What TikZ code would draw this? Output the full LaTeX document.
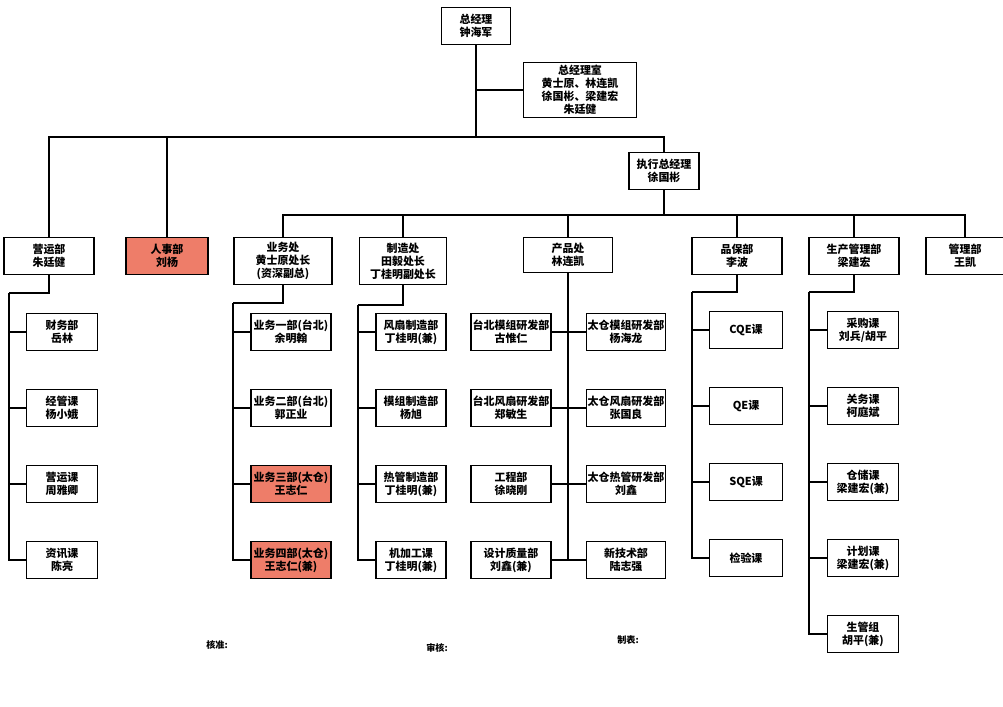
\documentclass[tikz,border=0pt]{standalone}
\usepackage{fontspec}
\setmainfont{Noto Sans CJK SC}
\definecolor{hrred}{RGB}{238,125,105}
\begin{document}
\begin{tikzpicture}[
        x=0.025cm, y=-0.025cm,
        node distance=1.9cm,
        box/.style={rectangle, draw, line width=0.9pt, minimum height=0.93cm, inner sep=1pt, align=center, font=\fontsize{7.8}{9.3}\selectfont\bfseries},
        hot/.style={box, fill=hrred},
        link/.style={line width=0.9pt},
        sign/.style={font=\fontsize{6.5}{8}\selectfont\bfseries}
    ]
        \useasboundingbox (0,0) rectangle (1003,706);

        % top level
        \node[box, minimum width=1.73cm] (gm) at (476,26) {总经理\\钟海军};
        \node[box, minimum width=2.83cm, minimum height=1.38cm] (gmoffice) at (580,90) {总经理室\\黄士原、林连凯\\徐国彬、梁建宏\\朱廷健};
        \node[box, minimum width=1.75cm] (exec) at (664,171) {执行总经理\\徐国彬};

        % departments
        \node[box, minimum width=2.25cm] (ops) at (49,256) {营运部\\朱廷健};
        \node[hot, minimum width=2.05cm] (hr) at (167,256) {人事部\\刘杨};
        \node[box, minimum width=2.45cm, minimum height=1.18cm] (sales) at (283,261) {业务处\\黄士原处长\\(资深副总)};
        \node[box, minimum width=2.18cm, minimum height=1.18cm] (mfg) at (403,261) {制造处\\田毅处长\\丁桂明副处长};
        \node[box, minimum width=2.23cm, minimum height=0.88cm] (prod) at (568,255) {产品处\\林连凯};
        \node[box, minimum width=2.25cm] (qa) at (737,256) {品保部\\李波};
        \node[box, minimum width=2.25cm] (pmc) at (854,256) {生产管理部\\梁建宏};
        \node[box, minimum width=1.95cm] (admin) at (965,256) {管理部\\王凯};

        % 营运部
        \node[box, minimum width=1.78cm] (o1) at (62,332) {财务部\\岳林};
        \node[box, minimum width=1.78cm, below of=o1] (o2) {经管课\\杨小娥};
        \node[box, minimum width=1.78cm, below of=o2] (o3) {营运课\\周雅卿};
        \node[box, minimum width=1.78cm, below of=o3] (o4) {资讯课\\陈亮};

        % 业务处
        \node[box, minimum width=2cm] (s1) at (291,332) {业务一部(台北)\\余明翰};
        \node[box, minimum width=2cm, below of=s1] (s2) {业务二部(台北)\\郭正业};
        \node[hot, minimum width=2cm, below of=s2] (s3) {业务三部(太仓)\\王志仁};
        \node[hot, minimum width=2cm, below of=s3] (s4) {业务四部(太仓)\\王志仁(兼)};

        % 制造处
        \node[box, minimum width=1.75cm] (m1) at (411,332) {风扇制造部\\丁桂明(兼)};
        \node[box, minimum width=1.75cm, below of=m1] (m2) {模组制造部\\杨旭};
        \node[box, minimum width=1.75cm, below of=m2] (m3) {热管制造部\\丁桂明(兼)};
        \node[box, minimum width=1.75cm, below of=m3] (m4) {机加工课\\丁桂明(兼)};

        % 产品处
        \node[box, minimum width=2cm] (pl1) at (511,332) {台北模组研发部\\古惟仁};
        \node[box, minimum width=2cm, below of=pl1] (pl2) {台北风扇研发部\\郑敏生};
        \node[box, minimum width=2cm, below of=pl2] (pl3) {工程部\\徐晓刚};
        \node[box, minimum width=2cm, below of=pl3] (pl4) {设计质量部\\刘鑫(兼)};
        \node[box, minimum width=1.98cm] (pr1) at (626,332) {太仓模组研发部\\杨海龙};
        \node[box, minimum width=1.98cm, below of=pr1] (pr2) {太仓风扇研发部\\张国良};
        \node[box, minimum width=1.98cm, below of=pr2] (pr3) {太仓热管研发部\\刘鑫};
        \node[box, minimum width=1.98cm, below of=pr3] (pr4) {新技术部\\陆志强};

        % 品保部
        \node[box, minimum width=1.83cm] (q1) at (746,330) {CQE课};
        \node[box, minimum width=1.83cm, below of=q1] (q2) {QE课};
        \node[box, minimum width=1.83cm, below of=q2] (q3) {SQE课};
        \node[box, minimum width=1.83cm, below of=q3] (q4) {检验课};

        % 生产管理部
        \node[box, minimum width=1.78cm] (c1) at (863,330) {采购课\\刘兵/胡平};
        \node[box, minimum width=1.78cm, below of=c1] (c2) {关务课\\柯庭斌};
        \node[box, minimum width=1.78cm, below of=c2] (c3) {仓储课\\梁建宏(兼)};
        \node[box, minimum width=1.78cm, below of=c3] (c4) {计划课\\梁建宏(兼)};
        \node[box, minimum width=1.78cm, below of=c4] (c5) {生管组\\胡平(兼)};

        % buses
        \coordinate (busA) at (476,137);
        \coordinate (busB) at (664,215);
        \coordinate (opsbus) at (9,293);
        \coordinate (salesbus) at (233,303);
        \coordinate (mfgbus) at (358,305);
        \coordinate (qabus) at (692,292);
        \coordinate (pmcbus) at (809,292);

        \draw[link] (gm.south) -- (busA);
        \draw[link] (gmoffice.west) -| (gm.south);
        \draw[link] (ops.north) |- (busA) -| (exec.north);
        \draw[link] (hr.north) -- (hr.north |- busA);
        \draw[link] (exec.south) -- (busB);
        \foreach \n in {sales, mfg, prod, qa, pmc, admin}
            \draw[link] (\n.north) |- (busB);

        \draw[link] (ops.south) |- (opsbus);
        \foreach \n in {o1, o2, o3, o4}
            \draw[link] (opsbus) |- (\n.west);
        \draw[link] (sales.south) |- (salesbus);
        \foreach \n in {s1, s2, s3, s4}
            \draw[link] (salesbus) |- (\n.west);
        \draw[link] (mfg.south) |- (mfgbus);
        \foreach \n in {m1, m2, m3, m4}
            \draw[link] (mfgbus) |- (\n.west);
        \draw[link] (prod.south) -- (prod.south |- pl4.east);
        \foreach \i in {1,...,4}
            \draw[link] (pl\i.east) -- (pr\i.west);
        \draw[link] (qa.south) |- (qabus);
        \foreach \n in {q1, q2, q3, q4}
            \draw[link] (qabus) |- (\n.west);
        \draw[link] (pmc.south) |- (pmcbus);
        \foreach \n in {c1, c2, c3, c4, c5}
            \draw[link] (pmcbus) |- (\n.west);

        % sign-off
        \node[sign] (approve) at (217,645) {核准:};
        \node[sign] (review) at (437,648) {审核:};
        \node[sign] (maker) at (628,640) {制表:};
    \end{tikzpicture}
\end{document}
